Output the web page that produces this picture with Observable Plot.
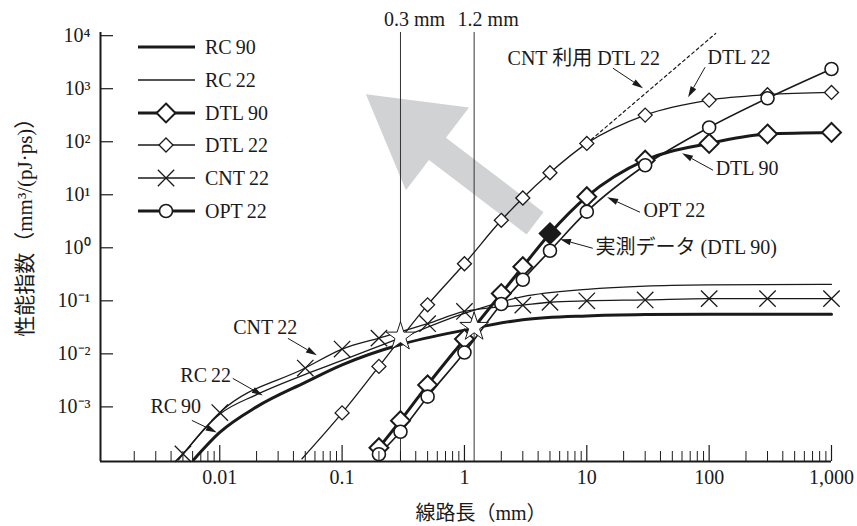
<!DOCTYPE html>
<html><head><meta charset="utf-8">
<script src="https://cdn.jsdelivr.net/npm/d3@7"></script>
<script src="https://cdn.jsdelivr.net/npm/@observablehq/plot@0.6"></script>
<style>body{margin:0;background:#fff}</style>
</head><body><div id="chart"></div>
<script>
// ---- axes ----
const xDomain = [0.00106, 1000];
const yDomain = [Math.pow(10, -4.03), Math.pow(10, 4.06)];
const xMajorTicks = [0.01, 0.1, 1, 10, 100, 1000];
const xTickLabels = ["0.01", "0.1", "1", "10", "100", "1,000"];
const xMinorDecades = [0.001, 0.01, 0.1, 1, 10, 100];
const xMinorMult = [2, 3, 4, 5, 6, 7, 8, 9];
const yTicks = [1e-3, 1e-2, 1e-1, 1, 10, 100, 1000, 10000];
const yTickLabels = ["10\u207B\u00B3", "10\u207B\u00B2", "10\u207B\u00B9", "10\u2070", "10\u00B9", "10\u00B2", "10\u00B3", "10\u2074"];
const xLabel = "線路長（mm）";
const yLabel = "性能指数（mm³/(pJ·ps)）";
const yLabelAt = 0.021; // y value where the rotated label starts (bottom end)

// ---- series (line length mm -> figure of merit) ----
const rc90X = [0.0061, 0.01, 0.02, 0.05, 0.1, 0.3, 1, 3, 10, 30, 100, 1000];
const rc90Y = [1.0e-4, 3.3e-4, 1.0e-3, 2.9e-3, 6.2e-3, 0.015, 0.028, 0.044, 0.052, 0.055, 0.056, 0.056];

const rc22X = [0.0046, 0.01, 0.02, 0.05, 0.1, 0.3, 1, 3, 10, 30, 100, 1000];
const rc22Y = [1.0e-4, 7.3e-4, 1.7e-3, 4.1e-3, 7.5e-3, 0.020, 0.058, 0.12, 0.165, 0.19, 0.2, 0.205];

const cnt22X = [0.0045, 0.005, 0.01, 0.05, 0.1, 0.2, 0.5, 1, 3, 5, 10, 30, 100, 300, 1000];
const cnt22Y = [1.0e-4, 1.3e-4, 7.8e-4, 5.4e-3, 0.0123, 0.0198, 0.037, 0.063, 0.083, 0.094, 0.1, 0.104, 0.11, 0.11, 0.11];

const dtl22X = [0.047, 0.1, 0.2, 0.5, 1, 2, 3, 5, 10, 30, 100, 300, 1000];
const dtl22Y = [1.05e-4, 7.7e-4, 5.8e-3, 0.084, 0.5, 3.3, 8.7, 26, 93, 318, 610, 770, 850];

const dtl90X = [0.2, 0.3, 0.5, 1, 2, 3, 5, 10, 30, 100, 300, 1000];
const dtl90Y = [1.7e-4, 5.5e-4, 2.6e-3, 0.019, 0.137, 0.44, 1.86, 9.2, 45, 93, 140, 150];

const opt22X = [0.2, 0.3, 0.5, 1, 2, 3, 5, 10, 30, 100, 300, 1000];
const opt22Y = [1.28e-4, 3.4e-4, 1.56e-3, 0.0106, 0.087, 0.25, 0.88, 4.8, 36, 186, 660, 2350];

const cntDtl22X = [10, 113];
const cntDtl22Y = [93, 11000];

const measuredX = [5];
const measuredY = [1.86];

const starX = [0.3, 1.2];
const starY = [0.021, 0.032];

const vLinesX = [0.3, 1.2];
const vLineLabels = ["0.3 mm", "1.2 mm"];

// big gray arrow (tail -> tip, data coords)
const bigArrowTail = [3.81, 2.84];
const bigArrowTip = [0.158, 771];

// annotations
const annText = ["CNT 利用 DTL\u200922", "DTL\u200922", "DTL\u200990", "OPT\u200922", "実測データ (DTL\u200990)", "CNT\u200922", "RC\u200922", "RC\u200990"];
const annX = [2.25, 97, 113, 29, 11.8, 0.0129, 0.00476, 0.00271];
const annY = [3680, 3845, 31, 5.0, 1.0, 0.031, 3.85e-3, 1.0e-3];
const annFromX = [16.5, 93.5, 108.7, 27.5, 11.3, 0.0364, 0.0129, 0.00597];
const annFromY = [2385, 2490, 28.4, 4.58, 0.958, 0.0192, 3.37e-3, 5.44e-4];
const annToX = [29.1, 67.9, 60.6, 14.8, 6.1, 0.0628, 0.0227, 0.00955];
const annToY = [1000, 676, 59.4, 8.78, 1.42, 0.00917, 1.61e-3, 3.23e-4];

// legend
const legendNames = ["RC\u200990", "RC\u200922", "DTL\u200990", "DTL\u200922", "CNT\u200922", "OPT\u200922"];
const legendWidths = [3, 1.3, 3, 1.3, 1.3, 3];
const legendSymbols = [null, null, "diamondBig", "diamond", "times", "circle"];

// ---- helpers ----
const pts = (xs, ys) => xs.map((x, i) => ({x, y: ys[i]}));
const xMinorTicks = xMinorDecades.flatMap(d => xMinorMult.map(m => d * m)).filter(v => v > xDomain[0] && v < xDomain[1]);
const ink = "#1a1a1a";
const W = 857, H = 526, mL = 100, mR = 26, mT = 32, mB = 65;
const frameW = W - mL - mR, frameH = H - mT - mB;

function grayArrow(index, scales) {
  const x0 = scales.x(bigArrowTail[0]), y0 = scales.y(bigArrowTail[1]);
  const x1 = scales.x(bigArrowTip[0]), y1 = scales.y(bigArrowTip[1]);
  const dx = x1 - x0, dy = y1 - y0, L = Math.hypot(dx, dy);
  const ux = dx / L, uy = dy / L, nx = -uy, ny = ux;
  const sw = 14, hw = 52, hl = 90;
  const bx = x1 - ux * hl, by = y1 - uy * hl;
  const p = [[x0 + nx * sw, y0 + ny * sw], [bx + nx * sw, by + ny * sw], [bx + nx * hw, by + ny * hw], [x1, y1],
             [bx - nx * hw, by - ny * hw], [bx - nx * sw, by - ny * sw], [x0 - nx * sw, y0 - ny * sw]];
  const g = d3.create("svg:g");
  g.append("path").attr("d", "M" + p.map(q => q.join(",")).join("L") + "Z").attr("fill", "#d1d2d4");
  return g.node();
}

function annArrows(index, scales) {
  const g = d3.create("svg:g");
  annFromX.forEach((_, i) => {
    const x0 = scales.x(annFromX[i]), y0 = scales.y(annFromY[i]);
    const x1 = scales.x(annToX[i]), y1 = scales.y(annToY[i]);
    const dx = x1 - x0, dy = y1 - y0, L = Math.hypot(dx, dy);
    const ux = dx / L, uy = dy / L, nx = -uy, ny = ux;
    const hl = 11, hw = 3.2;
    const bx = x1 - ux * hl, by = y1 - uy * hl;
    g.append("line").attr("x1", x0).attr("y1", y0).attr("x2", bx).attr("y2", by).attr("stroke", ink).attr("stroke-width", 1);
    g.append("path").attr("d", `M${x1},${y1}L${bx + nx * hw},${by + ny * hw}L${bx - nx * hw},${by - ny * hw}Z`).attr("fill", ink);
  });
  return g.node();
}

function legend() {
  const g = d3.create("svg:g");
  const rows = [47, 80, 113, 145, 178, 211];
  legendNames.forEach((name, i) => {
    const y = rows[i];
    g.append("line").attr("x1", 138).attr("x2", 195).attr("y1", y).attr("y2", y).attr("stroke", ink).attr("stroke-width", legendWidths[i]);
    const s = legendSymbols[i];
    if (s) {
      let sym, r, sw = 1.3;
      if (s === "diamondBig") { sym = d3.symbolDiamond2; r = 8.5; sw = 2; }
      else if (s === "diamond") { sym = d3.symbolDiamond2; r = 6.3; }
      else if (s === "times") { sym = d3.symbolTimes; r = 7.5; }
      else { sym = d3.symbolCircle; r = 6.5; sw = 1.6; }
      g.append("path").attr("transform", `translate(166,${y})`).attr("d", d3.symbol(sym, Math.PI * r * r)())
        .attr("fill", s === "times" ? "none" : "white").attr("stroke", ink).attr("stroke-width", sw);
    }
    g.append("text").attr("x", 205).attr("y", y).attr("dy", "0.35em").attr("text-anchor", "start")
      .attr("fill", ink).attr("font-size", 20).text(name);
  });
  return g.node();
}

const lineOpts = (w) => ({x: "x", y: "y", stroke: ink, strokeWidth: w, curve: "monotone-x"});

const chart = Plot.plot({
  width: W, height: H,
  marginLeft: mL, marginRight: mR, marginTop: mT, marginBottom: mB,
  style: {fontFamily: "'Liberation Serif', 'Noto Sans CJK JP', serif", fontSize: "20px", color: ink, background: "white"},
  x: {type: "log", domain: xDomain, ticks: xMajorTicks, tickFormat: d => xTickLabels[xMajorTicks.indexOf(d)], tickSize: 0, tickPadding: 8, label: null},
  y: {type: "log", domain: yDomain, ticks: yTicks, tickFormat: d => yTickLabels[yTicks.indexOf(d)], tickSize: 0, tickPadding: 10, label: null},
  marks: [
    grayArrow,
    Plot.ruleX(vLinesX, {stroke: "#333", strokeWidth: 1}),
    Plot.line(pts(cntDtl22X, cntDtl22Y), {x: "x", y: "y", stroke: ink, strokeWidth: 1.2, strokeDasharray: "3,3"}),
    Plot.line(pts(rc90X, rc90Y), lineOpts(3)),
    Plot.line(pts(rc22X, rc22Y), lineOpts(1.3)),
    Plot.line(pts(cnt22X, cnt22Y), lineOpts(1.3)),
    Plot.line(pts(dtl22X, dtl22Y), lineOpts(1.3)),
    Plot.line(pts(dtl90X, dtl90Y), lineOpts(3)),
    Plot.line(pts(opt22X, opt22Y), lineOpts(1.6)),
    Plot.dot(pts(cnt22X, cnt22Y).slice(1), {x: "x", y: "y", symbol: "times", r: 7.5, stroke: ink, strokeWidth: 1.3}),
    Plot.dot(pts(dtl22X, dtl22Y).slice(1), {x: "x", y: "y", symbol: "diamond2", r: 6.3, fill: "white", stroke: ink, strokeWidth: 1.3}),
    Plot.dot(pts(dtl90X, dtl90Y), {x: "x", y: "y", symbol: "diamond2", r: 8.5, fill: "white", stroke: ink, strokeWidth: 2}),
    Plot.dot(pts(opt22X, opt22Y), {x: "x", y: "y", symbol: "circle", r: 6.5, fill: "white", stroke: ink, strokeWidth: 1.6}),
    Plot.dot(pts(starX, starY), {x: "x", y: "y", symbol: "star", r: 9, fill: "white", stroke: ink, strokeWidth: 1}),
    Plot.dot(pts(measuredX, measuredY), {x: "x", y: "y", symbol: "diamond2", r: 9.5, fill: ink, stroke: ink}),
    // axes lines and inward ticks
    Plot.ruleY([yDomain[0]], {stroke: ink, strokeWidth: 2}),
    Plot.ruleX([xDomain[0]], {stroke: ink, strokeWidth: 2}),
    Plot.tickX(xMajorTicks, {x: d => d, insetTop: frameH - 16, stroke: ink, strokeWidth: 1.2}),
    Plot.tickX(xMinorTicks, {x: d => d, insetTop: frameH - 10, stroke: ink, strokeWidth: 1}),
    Plot.tickY(yTicks, {y: d => d, insetRight: frameW - 13, stroke: ink, strokeWidth: 1.2}),
    // labels
    Plot.text(vLineLabels, {x: (d, i) => vLinesX[i], frameAnchor: "top", lineAnchor: "middle", dy: -13, dx: 14, fill: ink, fontSize: 20}),
    Plot.text(annText, {x: (d, i) => annX[i], y: (d, i) => annY[i], textAnchor: "start", fill: ink, fontSize: 20}),
    Plot.text([xLabel], {frameAnchor: "bottom", lineAnchor: "middle", textAnchor: "middle", dy: 52, dx: 15, fill: ink, fontSize: 20}),
    Plot.text([yLabel], {x: xDomain[0], y: yLabelAt, lineAnchor: "middle", textAnchor: "start", dx: -75, rotate: -90, fill: ink, fontSize: 21}),
    annArrows,
    legend
  ]
});
document.getElementById("chart").appendChild(chart);
</script>
</body></html>
